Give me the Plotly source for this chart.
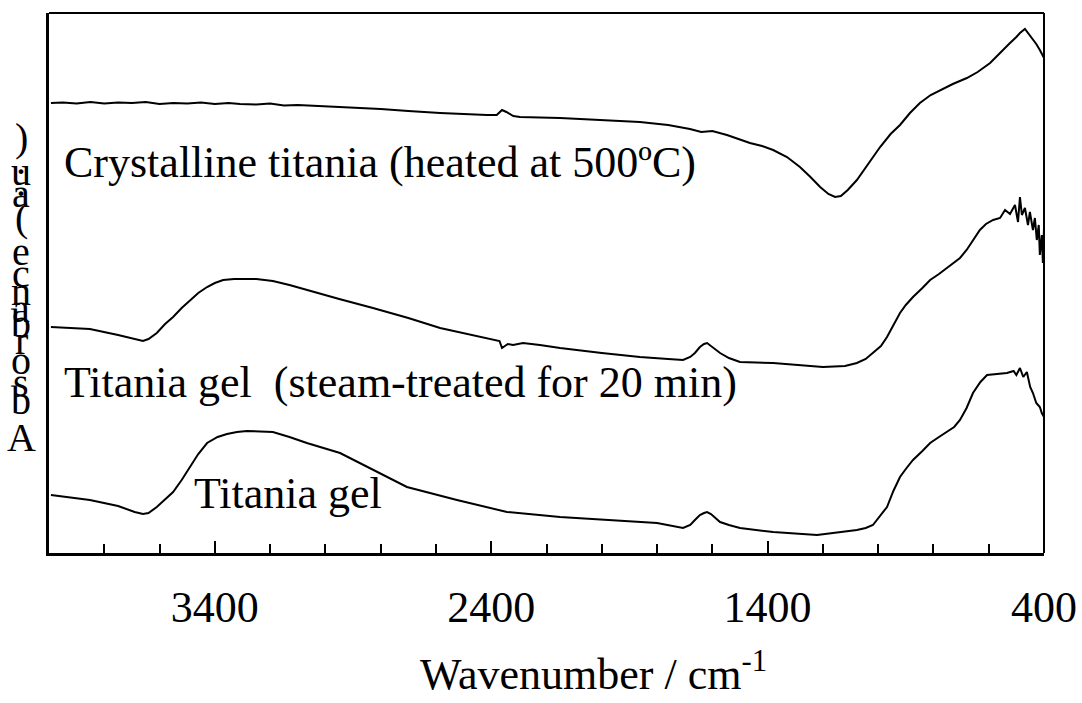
import plotly.graph_objects as go

# FT-IR spectra of titania samples (absorbance offset for clarity, arbitrary units)

# Crystalline titania (heated at 500 ºC)
wn_crystalline = [3993, 3950, 3900, 3850, 3800, 3750, 3700, 3650, 3600, 3550, 3500,
                  3450, 3400, 3350, 3309, 3250, 3200, 3150, 3100, 2947, 2800, 2700,
                  2585, 2415, 2380, 2361, 2345, 2320, 2296, 2151, 2000, 1862, 1760,
                  1681, 1640, 1600, 1547, 1464, 1420, 1380, 1330, 1283, 1245, 1210,
                  1180, 1156, 1135, 1110, 1077, 1040, 993, 955, 921, 885, 849, 810,
                  776, 730, 679, 640, 595, 560, 523, 500, 487, 469, 455, 440, 428,
                  415, 405, 400]
ab_crystalline = [450, 450.5, 449.5, 451, 449.5, 450.5, 450, 451, 449, 450, 449.5,
                  450.5, 449, 450, 449, 448.5, 449.5, 447.5, 448, 446, 444, 442,
                  440, 438, 438, 443, 441, 437, 436, 435, 433, 431, 428,
                  424, 421, 422, 418, 410, 407, 403, 396, 386, 376, 366,
                  359, 356, 357, 363, 373, 388, 406, 419, 428, 440, 450, 458,
                  463, 469, 475, 481, 490, 500, 510, 516, 520, 524, 519, 513, 509,
                  503, 497, 495]

# Titania gel, steam-treated for 20 min
wn_steam = [3993, 3852, 3750, 3690, 3660, 3640, 3610, 3580, 3551, 3520, 3490,
            3460, 3428, 3400, 3370, 3330, 3250, 3190, 3130, 3067, 2950, 2828,
            2700, 2585, 2394, 2370, 2361, 2340, 2321, 2285, 2224, 2151, 2000,
            1862, 1760, 1706, 1680, 1663, 1645, 1630, 1619, 1605, 1590, 1572,
            1540, 1500, 1380, 1300, 1200, 1120, 1077, 1045, 1019, 990, 968,
            945, 921, 900, 874, 840, 812, 780, 751, 704, 680, 657, 632, 610,
            584, 559, 541, 523, 505, 494, 487, 480, 469, 458, 451, 440, 433,
            426, 419, 415, 408, 404, 400]
ab_steam = [226, 224, 218, 214, 212, 214, 220, 229, 236, 245, 253,
            260, 266, 270, 273, 274, 274, 272, 268, 263, 254, 245,
            235, 225, 214, 212, 205, 209, 208, 210, 208, 205, 200,
            196, 194, 193, 196, 200, 206, 209, 210, 207, 203, 200,
            195, 191, 190, 188, 186, 187, 190, 194, 200, 207, 216,
            228, 240, 248, 256, 265, 273, 279, 285, 295, 303, 313, 323, 329,
            333, 335, 343, 339, 348, 331, 356, 338, 345, 328, 341, 323, 335,
            313, 328, 298, 318, 290, 325]

# Titania gel
wn_gel = [3993, 3852, 3750, 3690, 3660, 3640, 3610, 3580, 3551, 3520, 3490,
          3460, 3428, 3390, 3356, 3320, 3284, 3190, 3130, 3067, 2947, 2828,
          2705, 2524, 2343, 2151, 1981, 1800, 1706, 1680, 1663, 1645, 1630,
          1619, 1605, 1590, 1572, 1540, 1500, 1380, 1221, 1077, 1045, 1019,
          995, 968, 945, 921, 900, 874, 840, 812, 780, 751, 725, 704, 680,
          657, 630, 606, 570, 534, 510, 500, 487, 475, 462, 450, 440, 428,
          415, 408, 400]
ab_gel = [58, 53, 47, 41, 39, 40, 46, 54, 61, 73, 86,
          99, 110, 116, 119, 121, 122, 121, 116, 110, 100, 83,
          66, 53, 41, 36, 33, 30, 25, 28, 33, 38, 40,
          41, 39, 35, 31, 28, 25, 21, 18, 23, 25, 28,
          36, 46, 62, 76, 84, 93, 102, 110, 116, 121, 126, 133, 145,
          160, 171, 178, 179, 180, 182, 178, 185, 176, 181, 166, 160, 150,
          146, 140, 136]

series_labels = ["Crystalline titania (heated at 500ºC)",
                 "Titania gel  (steam-treated for 20 min)",
                 "Titania gel"]

major_ticks = [3400, 2400, 1400, 400]
tick_text = ["3400", "2400", "1400", "400"]

y_title = "Absorbance (a.u.)"

FONT = "Liberation Serif, Times New Roman, serif"

# page and plot-area geometry (pixels)
W, H = 1082, 703
L, R, T, B = 49, 38, 13, 150
pw, ph = W - L - R, H - T - B


def px_to_paper(px, py):
    return (px - L) / pw, (H - B - py) / ph


fig = go.Figure()
for wn, ab in [(wn_crystalline, ab_crystalline), (wn_steam, ab_steam), (wn_gel, ab_gel)]:
    fig.add_trace(go.Scatter(x=wn, y=ab, mode="lines",
                             line=dict(color="black", width=2),
                             showlegend=False, hoverinfo="skip"))

# curve labels
label_pos = [(3953, 391), (3953, 171), (3483, 60)]
for text, (lx, ly) in zip(series_labels, label_pos):
    fig.add_annotation(x=lx, y=ly, xref="x", yref="y", text=text,
                       showarrow=False, xanchor="left", yanchor="middle",
                       font=dict(family=FONT, size=44, color="black"))

# x-axis title below the tick labels
tx, ty = px_to_paper(593, 642)
fig.add_annotation(x=tx, y=ty, xref="paper", yref="paper",
                   text="Wavenumber / cm<sup>-1</sup>", showarrow=False,
                   xanchor="center", yanchor="top",
                   font=dict(family=FONT, size=44, color="black"))

# vertical y-axis title, characters stacked from bottom to top
char_px = {")": 137, "u": 171, "a": 194, "(": 217, "e": 251, "c": 273,
           "n": 292, "a2": 308, "b": 323, "r": 340, "o": 360, "s": 383,
           "b2": 400, "A": 437}
order = ["A", "b2", "s", "o", "r", "b", "a2", "n", "c", "e", None, "(", "a", ".", "u", ".", ")"]
dot_px = [183, 160]
dot_i = 0
for key, ch in zip(order, y_title):
    if key is None:
        continue
    if key == ".":
        py = dot_px[dot_i]
        dot_i += 1
    else:
        py = char_px[key]
    cx, cy = px_to_paper(21, py)
    fig.add_annotation(x=cx, y=cy, xref="paper", yref="paper", text=ch,
                       showarrow=False, xanchor="center", yanchor="middle",
                       font=dict(family=FONT, size=40, color="black"))

fig.update_layout(
    width=W, height=H,
    margin=dict(l=L, r=R, t=T, b=B, autoexpand=False),
    plot_bgcolor="white", paper_bgcolor="white",
    font=dict(family=FONT, size=44, color="black"),
    xaxis=dict(range=[4000, 400], showgrid=False, zeroline=False,
               automargin=False,
               showline=True, linecolor="black", linewidth=3,
               ticks="inside", tickvals=major_ticks, ticktext=tick_text,
               ticklen=12, tickwidth=2, tickcolor="black",
               ticklabelstandoff=13,
               tickfont=dict(family=FONT, size=44, color="black"),
               minor=dict(ticks="inside", tick0=400, dtick=200, ticklen=9,
                          tickwidth=2, tickcolor="black", showgrid=False)),
    yaxis=dict(range=[0, 540], showgrid=False, zeroline=False,
               automargin=False,
               showline=True, linecolor="black", linewidth=3,
               ticks="", showticklabels=False),
    shapes=[
        dict(type="line", xref="paper", yref="paper", x0=0, x1=1, y0=1, y1=1,
             line=dict(color="black", width=2)),
        dict(type="line", xref="paper", yref="paper", x0=1, x1=1, y0=0, y1=1,
             line=dict(color="black", width=2)),
    ],
)

fig.write_html("out.html")
